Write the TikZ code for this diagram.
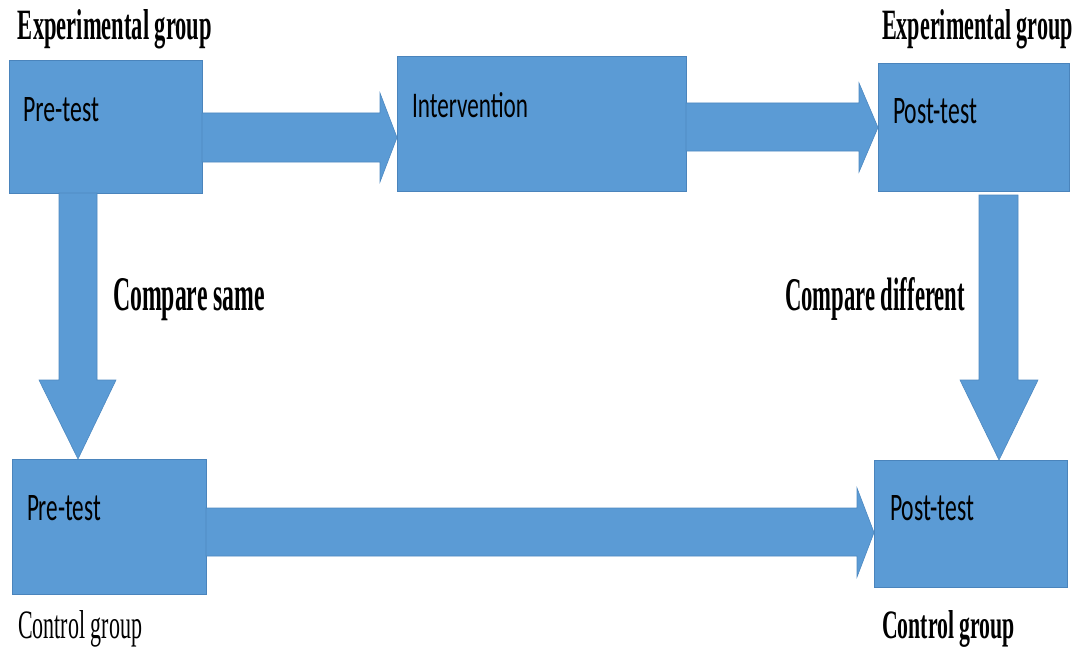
\documentclass[tikz,border=0pt]{standalone}
\usepackage{fontspec}
\usepackage{graphicx}
\setmainfont{Liberation Serif}
\newfontfamily\boxfont{Carlito}
\usetikzlibrary{calc}
\definecolor{blk}{HTML}{5B9BD5}
\definecolor{blkline}{HTML}{4A84BC}
\newcommand{\fitbox}[3]{\resizebox{#1pt}{#2pt}{#3}}
\begin{document}
\begin{tikzpicture}[x=1pt,y=-1pt,
  blockbox/.style={draw=blkline,line width=0.8pt,fill=blk,inner sep=0pt,outer sep=0pt},
  arr/.style={fill=blk,draw=blkline!80!blk,line width=0.6pt,line join=miter},
  lbl/.style={inner sep=0pt,outer sep=0pt,anchor=base west}]
\useasboundingbox (0,0) rectangle (1081,658);
\fill[white] (0,0) rectangle (1081,658);

% boxes
\node[blockbox,minimum width=193pt,minimum height=133pt] (A) at (105.5,126.5) {};
\node[blockbox,minimum width=289pt,minimum height=135pt] (B) at (541.5,123.5) {};
\node[blockbox,minimum width=191pt,minimum height=128pt] (C) at (973.5,127) {};
\node[blockbox,minimum width=194pt,minimum height=135pt] (D) at (109,526.5) {};
\node[blockbox,minimum width=193pt,minimum height=127pt] (E) at (970.5,523.5) {};

% horizontal block arrows
\draw[arr] (A.east |- 0,113) -- ($(B.west |- 0,113)+(-17,0)$) -- ($(B.west |- 0,93)+(-17,0)$)
  -- (B.west |- 0,137.5) -- ($(B.west |- 0,182)+(-17,0)$) -- ($(B.west |- 0,162)+(-17,0)$)
  -- (A.east |- 0,162) -- cycle;
\draw[arr] (B.east |- 0,103) -- ($(C.west |- 0,103)+(-19,0)$) -- ($(C.west |- 0,83)+(-19,0)$)
  -- (C.west |- 0,127.5) -- ($(C.west |- 0,172)+(-19,0)$) -- ($(C.west |- 0,151)+(-19,0)$)
  -- (B.east |- 0,151) -- cycle;
\draw[arr] (D.east |- 0,508) -- ($(E.west |- 0,508)+(-17,0)$) -- ($(E.west |- 0,488)+(-17,0)$)
  -- (E.west |- 0,532.5) -- ($(E.west |- 0,577)+(-17,0)$) -- ($(E.west |- 0,556)+(-17,0)$)
  -- (D.east |- 0,556) -- cycle;

% vertical block arrows
\draw[arr] (59,0 |- A.south) -- (59,380) -- (39,380) -- (78,0 |- D.north)
  -- (116,380) -- (97,380) -- (97,0 |- A.south) -- cycle;
\draw[arr] ($(979,0 |- C.south)+(0,4)$) -- (979,380) -- (960,380) -- (999,0 |- E.north)
  -- (1038,380) -- (1018,380) -- ($(1018,0 |- C.south)+(0,4)$) -- cycle;

% box texts
\node[lbl] (tA) at (23,122) {\fitbox{76}{24}{\boxfont Pre-test}};
\node[lbl] (tB) at (412,118) {\fitbox{116}{25}{\boxfont Intervention}};
\node[lbl] (tC) at (893,123) {\fitbox{84}{25}{\boxfont Post-test}};
\node[lbl] (tD) at (27,520) {\fitbox{74}{25}{\boxfont Pre-test}};
\node[lbl] (tE) at (890,520) {\fitbox{84}{25}{\boxfont Post-test}};

% outer labels
\node[lbl] (eg1) at (18,40) {\fitbox{194}{30}{\bfseries Experimental group}};
\node[lbl] (eg2) at (882,40) {\fitbox{191}{30}{\bfseries Experimental group}};
\node[lbl] (cs) at (113,310) {\fitbox{152}{32}{\bfseries Compare same}};
\node[lbl] (cd) at (785,310) {\fitbox{180}{33}{\bfseries Compare different}};
\node[lbl] (cg1) at (18,638) {\fitbox{124}{28}{Control group}};
\node[lbl] (cg2) at (882,638) {\fitbox{133}{28}{\bfseries Control group}};
\end{tikzpicture}
\end{document}
